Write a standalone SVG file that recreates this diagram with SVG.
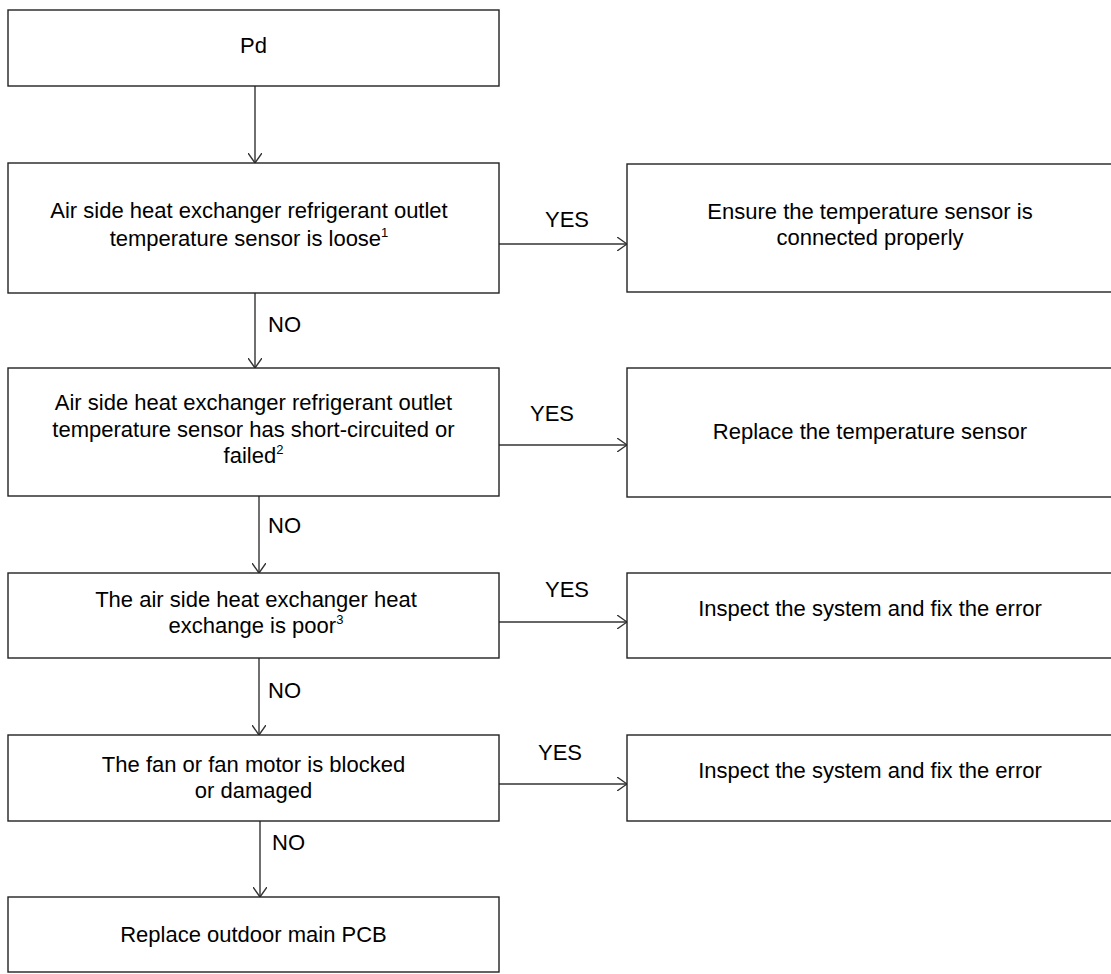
<svg xmlns="http://www.w3.org/2000/svg" width="1111" height="974" viewBox="0 0 1111 974">
<style>
.box{fill:#fff;stroke:#222;stroke-width:1.4}
.t{font-family:"Liberation Sans",Arial,sans-serif;font-size:22px;fill:#000;text-anchor:middle}
.l{font-family:"Liberation Sans",Arial,sans-serif;font-size:22px;fill:#000}
.sup{font-size:13px}
.c{fill:none;stroke:#333;stroke-width:1.4}
</style>
<defs>
<marker id="ah" viewBox="0 0 10 14" refX="10" refY="7" markerWidth="10" markerHeight="14" markerUnits="userSpaceOnUse" orient="auto">
<path d="M0,0 L10,7 L0,14" fill="none" stroke="#333" stroke-width="1.4"/>
</marker>
</defs>
<rect width="1111" height="974" fill="#fff"/>
<g id="connectors">
<line class="c" x1="255" y1="86" x2="255" y2="163" marker-end="url(#ah)"/>
<line class="c" x1="255" y1="293" x2="255" y2="368" marker-end="url(#ah)"/>
<line class="c" x1="259" y1="496" x2="259" y2="573" marker-end="url(#ah)"/>
<line class="c" x1="259" y1="658" x2="259" y2="735" marker-end="url(#ah)"/>
<line class="c" x1="260" y1="821" x2="260" y2="897" marker-end="url(#ah)"/>
<line class="c" x1="499" y1="244" x2="627" y2="244" marker-end="url(#ah)"/>
<line class="c" x1="499" y1="445" x2="627" y2="445" marker-end="url(#ah)"/>
<line class="c" x1="499" y1="622" x2="627" y2="622" marker-end="url(#ah)"/>
<line class="c" x1="499" y1="784" x2="627" y2="784" marker-end="url(#ah)"/>
<text class="t" x="567" y="227">YES</text>
<text class="t" x="552" y="421">YES</text>
<text class="t" x="567" y="597">YES</text>
<text class="t" x="560" y="760">YES</text>
<text class="l" x="268" y="332">NO</text>
<text class="l" x="268" y="533">NO</text>
<text class="l" x="268" y="698">NO</text>
<text class="l" x="272" y="850">NO</text>
</g>
<g id="n_pd">
<rect class="box" x="8" y="10" width="491" height="76"/>
<text class="t" x="253.5" y="53">Pd</text>
</g>
<g id="n_loose">
<rect class="box" x="8" y="163" width="491" height="130"/>
<text class="t" x="249" y="218">Air side heat exchanger refrigerant outlet</text>
<text class="t" x="249" y="246">temperature sensor is loose<tspan class="sup" dy="-9">1</tspan></text>
</g>
<g id="n_short">
<rect class="box" x="8" y="368" width="491" height="128"/>
<text class="t" x="253.5" y="410">Air side heat exchanger refrigerant outlet</text>
<text class="t" x="253.5" y="437">temperature sensor has short-circuited or</text>
<text class="t" x="253.5" y="463">failed<tspan class="sup" dy="-9">2</tspan></text>
</g>
<g id="n_poor">
<rect class="box" x="8" y="573" width="491" height="85"/>
<text class="t" x="256" y="607">The air side heat exchanger heat</text>
<text class="t" x="256" y="633">exchange is poor<tspan class="sup" dy="-9">3</tspan></text>
</g>
<g id="n_fan">
<rect class="box" x="8" y="735" width="491" height="86"/>
<text class="t" x="253.5" y="772">The fan or fan motor is blocked</text>
<text class="t" x="253.5" y="798">or damaged</text>
</g>
<g id="n_pcb">
<rect class="box" x="8" y="897" width="491" height="75"/>
<text class="t" x="253.5" y="942">Replace outdoor main PCB</text>
</g>
<g id="r_connect">
<rect class="box" x="627" y="164" width="486" height="128"/>
<text class="t" x="870" y="219">Ensure the temperature sensor is</text>
<text class="t" x="870" y="245">connected properly</text>
</g>
<g id="r_replace">
<rect class="box" x="627" y="368" width="486" height="129"/>
<text class="t" x="870" y="439">Replace the temperature sensor</text>
</g>
<g id="r_inspect1">
<rect class="box" x="627" y="573" width="486" height="85"/>
<text class="t" x="870" y="616">Inspect the system and fix the error</text>
</g>
<g id="r_inspect2">
<rect class="box" x="627" y="735" width="486" height="86"/>
<text class="t" x="870" y="778">Inspect the system and fix the error</text>
</g>
</svg>
